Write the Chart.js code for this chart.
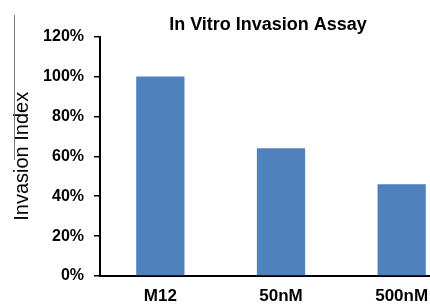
<!DOCTYPE html>
<html>
<head>
<meta charset="utf-8">
<script src="https://cdn.jsdelivr.net/npm/chart.js@4"></script>
<style>
  html, body { margin: 0; padding: 0; background: #fff; overflow: hidden; }
  #wrap { position: relative; width: 536px; height: 305px; }
  #edge { position: absolute; left: 14px; top: 15px; width: 1px; height: 145px; background: #777; }
</style>
</head>
<body>
<div id="wrap">
  <canvas id="invasionChart" width="536" height="305"></canvas>
  <div id="edge"></div>
</div>
<script>
const groups = ['M12', '50nM', '500nM'];
const invasion = [100, 64, 46];
const yTicks = [0, 20, 40, 60, 80, 100, 120];

Chart.defaults.font.family = '"Liberation Sans", Arial, sans-serif';
Chart.defaults.color = '#000';

const ctx = document.getElementById('invasionChart').getContext('2d');

new Chart(ctx, {
  type: 'bar',
  data: {
    labels: groups,
    datasets: [{
      label: 'Invasion Index',
      data: invasion,
      backgroundColor: '#4f81bd',
      categoryPercentage: 1,
      barPercentage: 0.4
    }]
  },
  options: {
    responsive: false,
    animation: false,
    layout: { padding: 0 },
    plugins: {
      legend: { display: false },
      tooltip: { enabled: false },
      title: {
        display: true,
        text: 'In Vitro Invasion Assay',
        font: { size: 18, weight: 'bold' },
        color: '#000',
        padding: { top: 14, bottom: 1 }
      }
    },
    scales: {
      x: {
        grid: { display: false, drawTicks: false },
        border: { color: '#000', width: 2 },
        afterFit: s => { s.height = 29; },
        ticks: {
          font: { size: 17, weight: 'bold', lineHeight: 1 },
          color: '#000',
          padding: 12
        }
      },
      y: {
        min: 0,
        max: 120,
        afterBuildTicks: s => { s.ticks = yTicks.map(v => ({ value: v })); },
        afterFit: s => { s.width = 100; },
        grid: { drawOnChartArea: false, tickLength: 6, color: '#000', lineWidth: 1.5 },
        border: { color: '#000', width: 2 },
        ticks: {
          font: { size: 16, weight: 'bold' },
          color: '#000',
          padding: 10,
          callback: v => v + '%'
        },
        title: {
          display: true,
          text: 'Invasion Index',
          font: { size: 20 },
          color: '#000',
          padding: { top: 10, bottom: 0 }
        }
      },
      spacer: {
        type: 'linear',
        position: 'right',
        grid: { display: false },
        border: { display: false },
        ticks: { display: false },
        afterFit: s => { s.width = 74; }
      }
    }
  }
});
</script>
</body>
</html>
